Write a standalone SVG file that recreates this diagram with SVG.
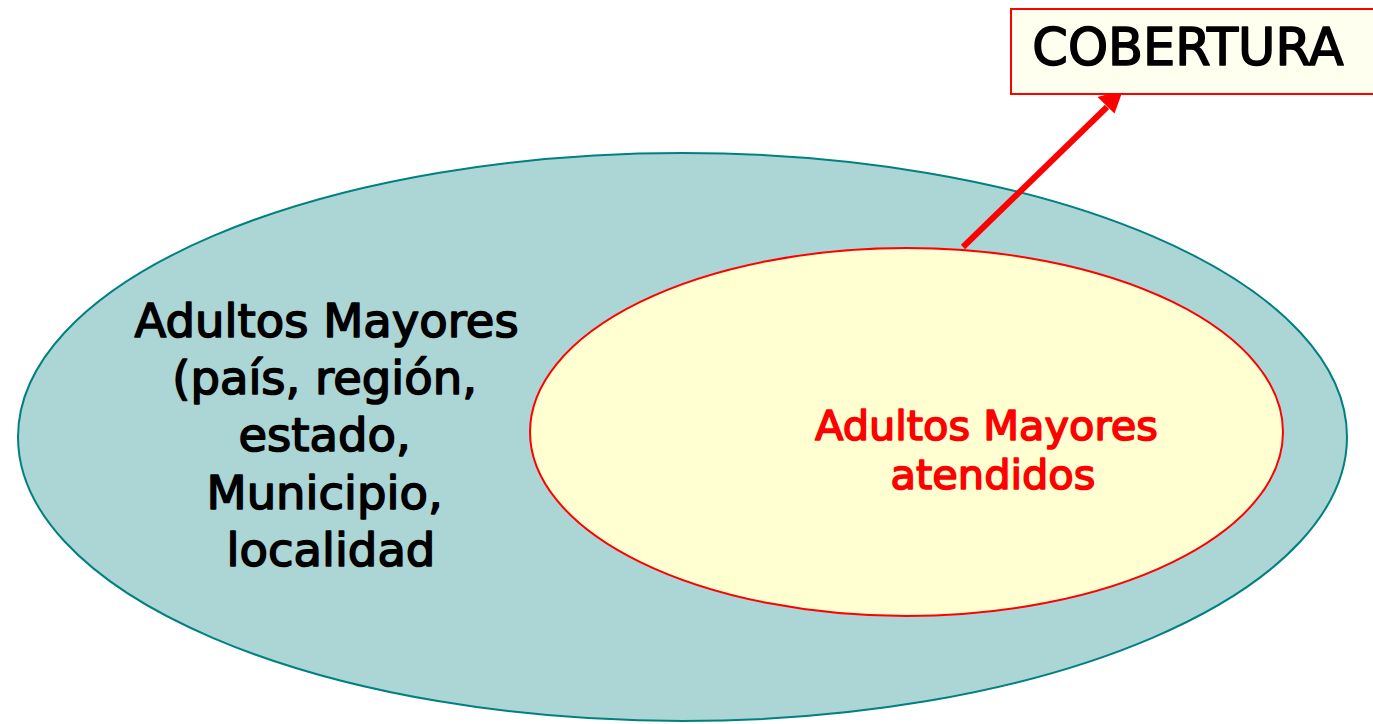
<svg xmlns="http://www.w3.org/2000/svg" width="1373" height="724" viewBox="0 0 1373 724">
<style>
.t{font-family:"DejaVu Sans",sans-serif;text-anchor:middle;stroke-width:1.6;stroke-linejoin:round}
</style>
<rect width="1373" height="724" fill="#ffffff"/>
<g id="outer">
<ellipse cx="682.5" cy="437" rx="664.5" ry="284" fill="#acd5d5" stroke="#008080" stroke-width="2"/>
<text class="t" font-size="46.5" fill="#000" stroke="#000">
<tspan x="334" y="337">Adultos Mayores</tspan>
<tspan x="332" y="394">(país, región,</tspan>
<tspan x="332" y="451">estado,</tspan>
<tspan x="332" y="509">Municipio,</tspan>
<tspan x="331" y="566">localidad</tspan>
</text>
</g>
<g id="inner">
<ellipse cx="906.5" cy="432" rx="376.5" ry="184" fill="#ffffd1" stroke="#ff0000" stroke-width="2"/>
<text class="t" font-size="41.5" fill="#ff0000" stroke="#ff0000">
<tspan x="993" y="440">Adultos Mayores</tspan>
<tspan x="993" y="489">atendidos</tspan>
</text>
</g>
<g id="connectors">
<line x1="963" y1="247" x2="1107" y2="107" stroke="#ff0000" stroke-width="6"/>
<polygon points="1123,90 1114.5,113.5 1097.5,97" fill="#ff0000"/>
</g>
<g id="cobertura">
<rect x="1011" y="9" width="370" height="85" fill="#fffff0" stroke="#ff0000" stroke-width="2"/>
<text class="t" font-size="51" fill="#000" stroke="#000" x="1188" y="65">COBERTURA</text>
</g>
</svg>
